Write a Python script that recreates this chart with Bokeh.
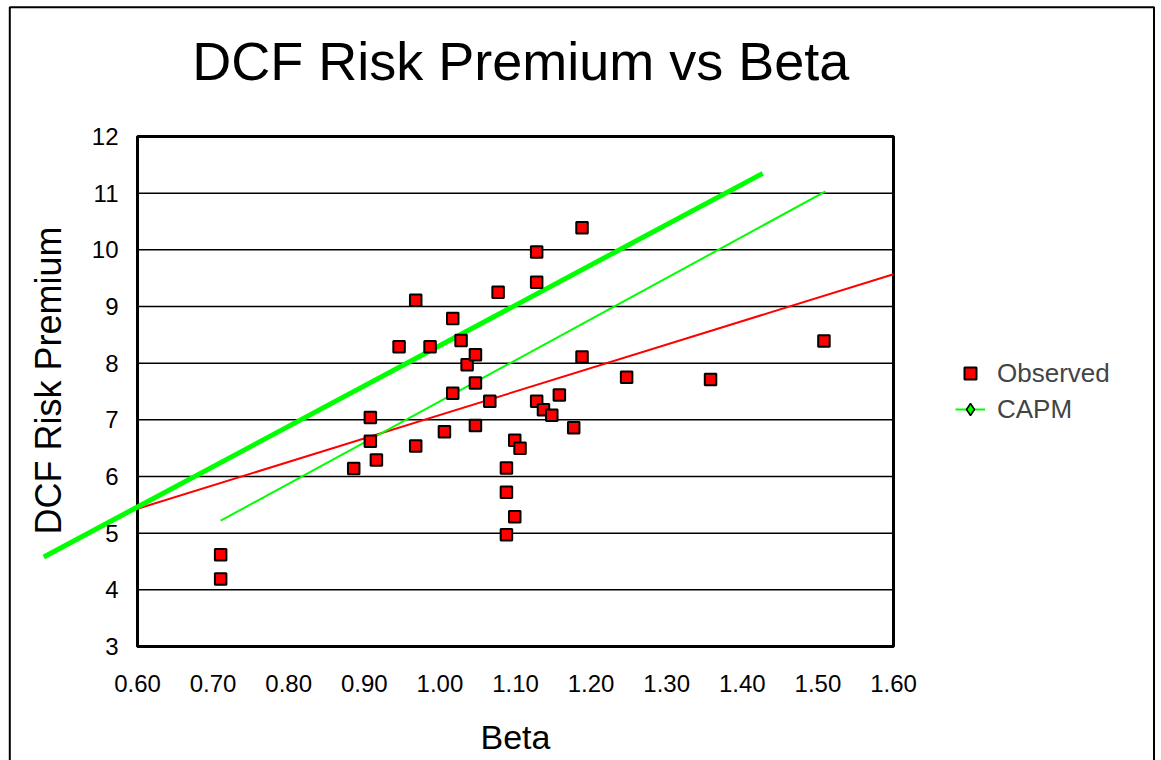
from bokeh.plotting import figure
from bokeh.models import Range1d, FixedTicker, Legend, LegendItem, Label
from bokeh.embed import file_html
from bokeh.resources import INLINE

# ---------------- data ----------------
beta_observed = [0.71, 0.71, 0.886, 0.908, 0.908, 0.916, 0.946, 0.968, 0.968, 0.987,
                 1.006, 1.017, 1.017, 1.028, 1.036, 1.047, 1.047, 1.047, 1.066, 1.077,
                 1.088, 1.088, 1.088, 1.099, 1.099, 1.106, 1.128, 1.128, 1.128, 1.137,
                 1.148, 1.158, 1.177, 1.188, 1.188, 1.247, 1.358, 1.508]
premium_observed = [4.62, 4.19, 6.14, 7.04, 6.62, 6.29, 8.29, 9.11, 6.54, 8.29,
                    6.79, 8.79, 7.47, 8.40, 7.97, 8.15, 7.65, 6.90, 7.33, 9.25,
                    6.15, 5.72, 4.97, 6.64, 5.29, 6.50, 9.96, 9.43, 7.33, 7.18,
                    7.08, 7.44, 6.86, 10.39, 8.11, 7.75, 7.71, 8.39]

capm_beta = [0.71, 1.51]
capm_premium = [5.22, 11.03]

trend_beta = [0.60, 1.60]
trend_premium = [5.43, 9.57]

sml_beta = [0.476, 1.427]
sml_premium = [4.58, 11.35]

x_ticks = [0.6, 0.7, 0.8, 0.9, 1.0, 1.1, 1.2, 1.3, 1.4, 1.5, 1.6]
x_tick_labels = ["0.60", "0.70", "0.80", "0.90", "1.00", "1.10", "1.20", "1.30", "1.40", "1.50", "1.60"]
y_ticks = [3, 4, 5, 6, 7, 8, 9, 10, 11, 12]
y_tick_labels = ["3", "4", "5", "6", "7", "8", "9", "10", "11", "12"]

x_min, x_max = 0.6, 1.6
y_min, y_max = 3, 12

FONT = "Liberation Sans"
GREEN = "#00FF00"
RED = "#FF0000"
NAN = float("nan")

# the frame spans the whole canvas, so the plot box, axes, legend and title are placed in it
p = figure(width=1155, height=760, output_backend="svg", toolbar_location=None,
           x_range=Range1d(0.418783, 1.946561), y_range=Range1d(0.98824, 14.4),
           min_border_left=0, min_border_right=0, min_border_top=0, min_border_bottom=0)

p.outline_line_color = None
p.xgrid.grid_line_color = None
p.ygrid.grid_line_color = None

# chart-area border (open at the bottom, where it runs past the page)
p.quad(left=[0.43108], right=[1.94458], bottom=[0.5], top=[14.2817],
       fill_color=None, line_color="black", line_width=2)

# plot box and horizontal gridlines
p.segment(x0=[x_min] * len(y_ticks), x1=[x_max] * len(y_ticks), y0=y_ticks, y1=y_ticks,
          line_color="black", line_width=1.5)
p.quad(left=[x_min], right=[x_max], bottom=[y_min], top=[y_max],
       fill_color=None, line_color="black", line_width=3)

p.xaxis.ticker = FixedTicker(ticks=x_ticks)
p.xaxis.major_label_overrides = dict(zip(x_ticks, x_tick_labels))
p.yaxis.ticker = FixedTicker(ticks=y_ticks)
p.yaxis.major_label_overrides = dict(zip(y_ticks, y_tick_labels))
p.xaxis.fixed_location = y_min
p.yaxis.fixed_location = x_min
p.xaxis.bounds = (x_min, x_max)

for ax in (p.xaxis[0], p.yaxis[0]):
    ax.axis_line_color = None
    ax.major_tick_line_color = None
    ax.minor_tick_line_color = None
    ax.major_label_text_font = FONT
    ax.major_label_text_font_size = "24px"
    ax.major_label_text_color = "black"
    ax.axis_label_text_font = FONT
    ax.axis_label_text_font_style = "normal"
    ax.axis_label_text_color = "black"

p.xaxis.axis_label = "Beta"
p.yaxis.axis_label = "DCF Risk Premium"
p.xaxis.axis_label_text_font_size = "34px"
p.yaxis.axis_label_text_font_size = "36px"
p.xaxis.major_label_standoff = 22
p.yaxis.major_label_standoff = 13
p.xaxis.axis_label_standoff = 23
p.yaxis.axis_label_standoff = 20

# title
p.add_layout(Label(x=1.107, y=13.341, text="DCF Risk Premium vs Beta",
                   text_align="center", text_baseline="alphabetic",
                   text_font=FONT, text_font_size="54px", text_color="black"))

# trend line (red)
p.line(trend_beta, trend_premium, line_color=RED, line_width=2)
# thick green line
p.line(sml_beta, sml_premium, line_color=GREEN, line_width=5)
# CAPM line; its diamond marker only shows in the legend (NaN proxy point is never drawn)
capm_line = p.line(capm_beta, capm_premium, line_color=GREEN, line_width=2)
capm_marker = p.scatter([NAN], [NAN], marker="diamond", size=16, fill_color=GREEN,
                        line_color="black", line_width=1.5)
# Observed
obs = p.scatter(beta_observed, premium_observed, marker="square", size=11.5,
                fill_color=RED, line_color="black", line_width=2)

legend = Legend(items=[LegendItem(label="Observed", renderers=[obs]),
                       LegendItem(label="CAPM", renderers=[capm_line, capm_marker])],
                location=(955, 335), orientation="vertical",
                label_text_font=FONT, label_text_font_size="26px",
                glyph_width=30, glyph_height=32, label_height=32, spacing=4,
                label_standoff=12, padding=0, margin=0,
                border_line_color=None, background_fill_alpha=0)
p.add_layout(legend, "center")

open("out.html", "w").write(file_html(p, INLINE))
